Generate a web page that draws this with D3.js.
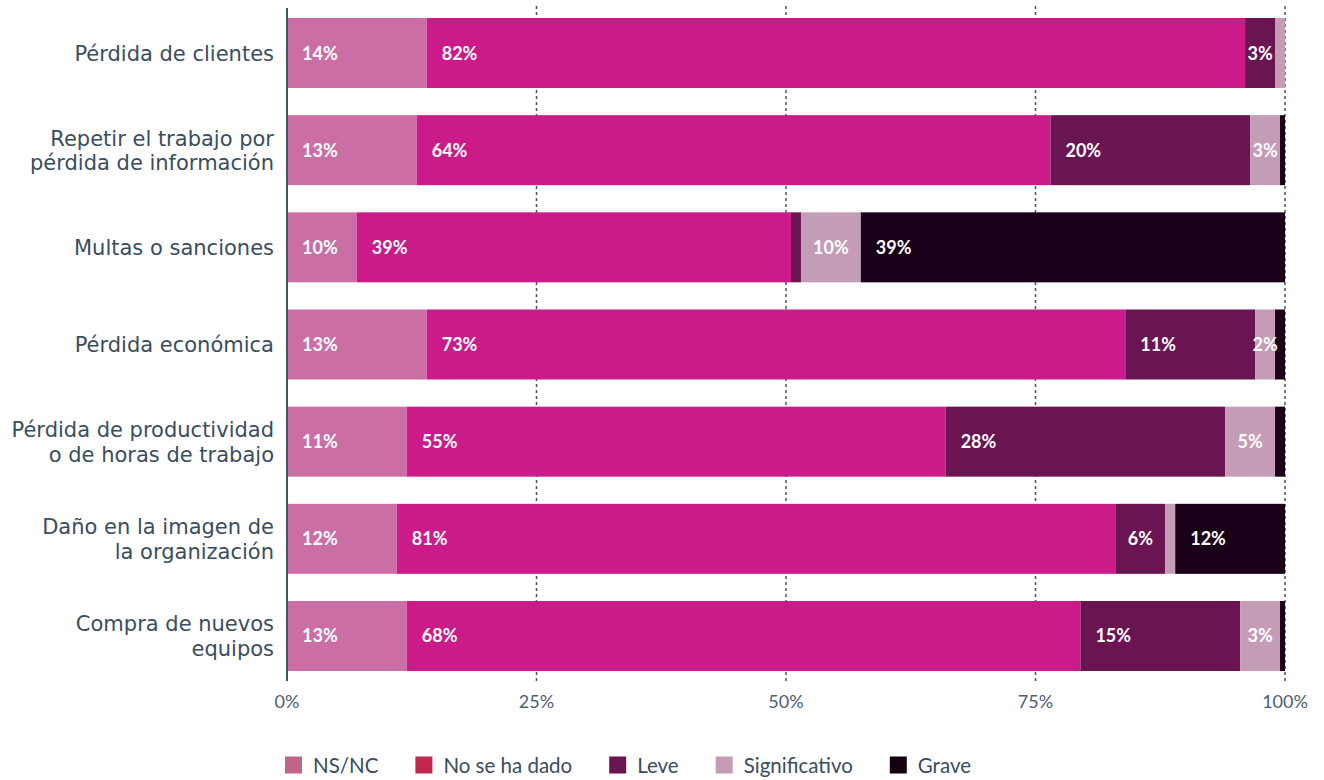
<!DOCTYPE html>
<html>
<head>
<meta charset="utf-8">
<script src="https://cdn.jsdelivr.net/npm/d3@7"></script>
<style>
  html, body { margin: 0; padding: 0; background: #ffffff; }
  svg { display: block; }
</style>
</head>
<body>
<svg id="chart" width="1324" height="780"></svg>
<script>
// ---- Data ----
const categories = [
  "Pérdida de clientes",
  "Repetir el trabajo por pérdida de información",
  "Multas o sanciones",
  "Pérdida económica",
  "Pérdida de productividad o de horas de trabajo",
  "Daño en la imagen de la organización",
  "Compra de nuevos equipos"
];
const categoryLines = [
  ["Pérdida de clientes"],
  ["Repetir el trabajo por", "pérdida de información"],
  ["Multas o sanciones"],
  ["Pérdida económica"],
  ["Pérdida de productividad", "o de horas de trabajo"],
  ["Daño en la imagen de", "la organización"],
  ["Compra de nuevos", "equipos"]
];
const seriesNames = ["NS/NC", "No se ha dado", "Leve", "Significativo", "Grave"];
const nsnc          = [14, 13,   7,    14, 12, 11, 12];
const noSeHaDado    = [82, 63.5, 43.5, 70, 54, 72, 67.5];
const leve          = [3,  20,   1,    13, 28, 5,  16];
const significativo = [1,  3,    6,    2,  5,  1,  4];
const grave         = [0,  0.5,  42.5, 1,  1,  11, 0.5];
// printed labels (as shown in the original)
const lblNsnc   = ["14%", "13%", "10%", "13%", "11%", "12%", "13%"];
const lblNoDado = ["82%", "64%", "39%", "73%", "55%", "81%", "68%"];
const lblLeve   = ["3%",  "20%", "",    "11%", "28%", "6%",  "15%"];
const lblSignif = ["",    "3%",  "10%", "2%",  "5%",  "",    "3%"];
const lblGrave  = ["",    "",    "39%", "",    "",    "12%", ""];
const tickValues = [0, 25, 50, 75, 100];
const tickLabels = ["0%", "25%", "50%", "75%", "100%"];

// ---- Styles ----
const barColors    = ["#cb6ea6", "#cb1b89", "#6b1452", "#c49cb6", "#1a0018"];
const legendColors = ["#c26485", "#c1284f", "#6b1452", "#c49cb6", "#150010"];
const axisColor = "#3d5565";
const textColor = "#3a4d5d";
const FONT = "Lato, 'Open Sans', 'Noto Sans', sans-serif";
const CAT_FONT = "'DejaVu Sans', 'Noto Sans', sans-serif";

const seriesValues = [nsnc, noSeHaDado, leve, significativo, grave];
const seriesLabels = [lblNsnc, lblNoDado, lblLeve, lblSignif, lblGrave];

const rows = categories.map((c, i) => {
  const r = { category: c };
  seriesNames.forEach((s, k) => { r[s] = seriesValues[k][i]; });
  return r;
});
const stacked = d3.stack().keys(seriesNames)(rows);

const svg = d3.select("#chart");
const x = d3.scaleLinear().domain([0, 100]).range([287, 1285]);
const y = d3.scaleBand().domain(categories).range([4.4, 684.6]).paddingInner(0.2796).paddingOuter(0.14);

// gridlines
const gridTop = 6, gridBottom = 681;
svg.append("g").selectAll("line")
  .data(tickValues.filter(v => v > 0))
  .join("line")
  .attr("x1", d => x(d)).attr("x2", d => x(d))
  .attr("y1", gridTop).attr("y2", gridBottom)
  .attr("stroke", axisColor).attr("stroke-width", 1.5)
  .attr("stroke-dasharray", "3,3");

// bars
const layers = svg.append("g").selectAll("g")
  .data(stacked).join("g")
  .attr("fill", (d, k) => barColors[k]);
layers.selectAll("rect")
  .data(d => d.map(s => ({ s, cat: s.data.category })))
  .join("rect")
  .attr("x", d => x(d.s[0]))
  .attr("y", d => y(d.cat))
  .attr("width", d => Math.max(0, x(d.s[1]) - x(d.s[0])))
  .attr("height", y.bandwidth());

// left axis line
svg.append("line")
  .attr("x1", x(0)).attr("x2", x(0))
  .attr("y1", 8).attr("y2", gridBottom)
  .attr("stroke", axisColor).attr("stroke-width", 2);

// data labels
const labG = svg.append("g")
  .attr("font-family", FONT).attr("font-weight", 700).attr("font-size", 18)
  .attr("fill", "#ffffff");
stacked.forEach((layer, k) => {
  layer.forEach((s, i) => {
    const txt = seriesLabels[k][i];
    if (!txt) return;
    const x0 = x(s[0]), w = x(s[1]) - x(s[0]);
    const t = labG.append("text")
      .attr("y", y(categories[i]) + y.bandwidth() / 2 + 6.5)
      .text(txt);
    const tw = t.node().getComputedTextLength();
    t.attr("x", x0 + Math.min(15, (w - tw) / 2));
  });
});

// category labels
const catG = svg.append("g")
  .attr("font-family", CAT_FONT).attr("font-size", 21).attr("fill", textColor)
  .attr("text-anchor", "end");
categories.forEach((c, i) => {
  const lines = categoryLines[i];
  const cy = y(c) + y.bandwidth() / 2 + 7.6;
  const lh = 24.5;
  lines.forEach((ln, j) => {
    catG.append("text")
      .attr("x", 274)
      .attr("y", cy + (j - (lines.length - 1) / 2) * lh)
      .text(ln);
  });
});

// x tick labels
svg.append("g")
  .attr("font-family", FONT).attr("font-size", 18).attr("fill", "#4d6070")
  .attr("text-anchor", "middle")
  .selectAll("text").data(tickValues).join("text")
  .attr("x", d => x(d)).attr("y", 708)
  .text((d, i) => tickLabels[i]);

// legend
const legG = svg.append("g").attr("font-family", FONT).attr("font-size", 20.5).attr("fill", textColor);
let lx = 285;
seriesNames.forEach((s, k) => {
  legG.append("rect").attr("x", lx).attr("y", 756.5).attr("width", 17).attr("height", 17)
    .attr("fill", legendColors[k]);
  const t = legG.append("text").attr("x", lx + 28).attr("y", 773).text(s);
  lx = lx + 28 + t.node().getComputedTextLength() + 37;
});
</script>
</body>
</html>
